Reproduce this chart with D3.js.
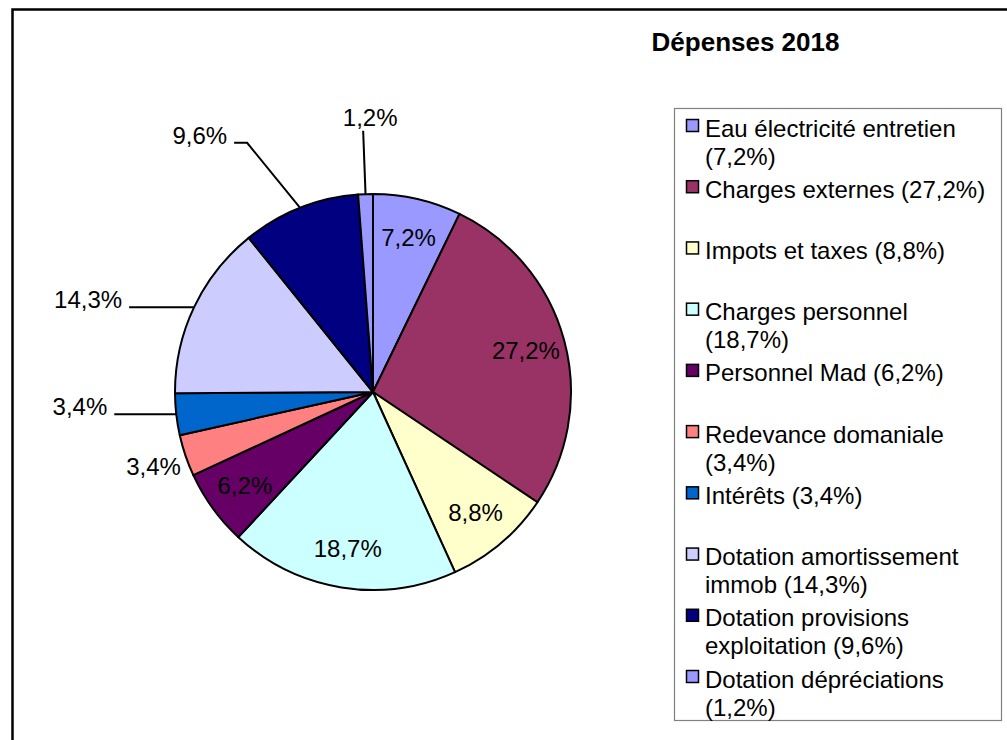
<!DOCTYPE html>
<html>
<head>
<meta charset="utf-8">
<script src="https://cdn.jsdelivr.net/npm/d3@7"></script>
<style>
  body { margin: 0; background: #fff; }
  svg { display: block; }
  text { font-family: Arial, "Liberation Sans", sans-serif; fill: #000; }
</style>
</head>
<body>
<div id="chart"></div>
<script>
const categories = ["Eau électricité entretien", "Charges externes", "Impots et taxes",
  "Charges personnel", "Personnel Mad", "Redevance domaniale", "Intérêts",
  "Dotation amortissement immob", "Dotation provisions exploitation", "Dotation dépréciations"];
const shares = [7.2, 27.2, 8.8, 18.7, 6.2, 3.4, 3.4, 14.3, 9.6, 1.2];
const colors = ["#9999ff", "#993366", "#ffffcc", "#ccffff", "#660066",
  "#ff8080", "#0066cc", "#ccccff", "#000080", "#9999ff"];
const title = "Dépenses 2018";

// where each percent label goes: inside the slice, or outside with a leader line
const labelSpots = ["in", "in", "in", "in", "in",
  { k: 1.17 },
  { k: 1, tail: 62 },
  { k: 1, tail: 65 },
  { k: 1.41, turn: -5.2, tail: 13 },
  { k: 1.32, tail: 0, above: true }];

const width = 1007, height = 740;
const cx = 373, cy = 392, radius = 198;

const svg = d3.select("#chart").append("svg")
  .attr("width", width)
  .attr("height", height);

// outer frame (only top and left edges show)
svg.append("path")
  .attr("d", `M12.5,${height + 5}V9.5H${width + 5}`)
  .attr("fill", "none")
  .attr("stroke", "#000")
  .attr("stroke-width", 2.5);

const fmt = v => d3.format(".1f")(v).replace(".", ",") + "%";

const data = categories.map((c, i) => ({ name: c, value: shares[i], color: colors[i] }));
const pie = d3.pie().sort(null).value(d => d.value);
const arcs = pie(data);
const arc = d3.arc().innerRadius(0).outerRadius(radius);

const g = svg.append("g").attr("transform", `translate(${cx},${cy})`);

g.selectAll("path.slice")
  .data(arcs)
  .join("path")
  .attr("class", "slice")
  .attr("d", arc)
  .attr("fill", d => d.data.color)
  .attr("stroke", "#000")
  .attr("stroke-width", 2)
  .attr("stroke-linejoin", "round");

const polar = (a, r) => [r * Math.sin(a), -r * Math.cos(a)];
const mid = d => (d.startAngle + d.endAngle) / 2;

arcs.forEach((d, i) => {
  const spot = labelSpots[i];
  const a = mid(d);
  const label = g.append("text").style("font-size", "24px").text(fmt(d.value));
  if (spot === "in") {
    const [x, y] = polar(a, radius * 0.8);
    label.attr("x", x).attr("y", y).attr("dy", "0.36em").attr("text-anchor", "middle");
    return;
  }
  if (spot.tail === undefined) {
    const [x, y] = polar(a, radius * spot.k);
    label.attr("x", x).attr("y", y).attr("dy", "0.36em").attr("text-anchor", "middle");
    return;
  }
  const p0 = polar(a, radius);
  const p1 = polar(a + (spot.turn || 0) * Math.PI / 180, radius * spot.k);
  const p2 = [p1[0] - spot.tail, p1[1]];
  g.append("path")
    .attr("d", d3.line()([p0, p1, p2]))
    .attr("fill", "none")
    .attr("stroke", "#000")
    .attr("stroke-width", 2);
  if (spot.above) {
    label.attr("x", p1[0] + 7).attr("y", p1[1] - 5).attr("text-anchor", "middle");
  } else {
    label.attr("x", p2[0] - 7).attr("y", p2[1] + 1).attr("text-anchor", "end");
  }
});

// title
svg.append("text")
  .attr("x", 745.5)
  .attr("y", 50.5)
  .attr("text-anchor", "middle")
  .style("font-size", "26px")
  .style("font-weight", "bold")
  .text(title);

// legend
const legend = svg.append("g");
legend.append("rect")
  .attr("x", 674.5).attr("y", 108.5)
  .attr("width", 327).attr("height", 612)
  .attr("fill", "#fff")
  .attr("stroke", "#808080")
  .attr("stroke-width", 1.2);

const rowY = d3.scaleLinear().domain([0, data.length - 1]).range([136.5, 687.5]);
const textX = 705, lineH = 28, maxW = 287;

data.forEach((d, i) => {
  const base = rowY(i);
  legend.append("rect")
    .attr("x", 686.5).attr("y", base - 17)
    .attr("width", 12).attr("height", 12)
    .attr("fill", d.color)
    .attr("stroke", "#000")
    .attr("stroke-width", 1.5);
  const t = legend.append("text").attr("x", textX).attr("y", base).style("font-size", "24px");
  const words = `${d.name} (${fmt(d.value)})`.split(" ");
  let line = [];
  let ts = t.append("tspan").attr("x", textX);
  words.forEach(w => {
    line.push(w);
    ts.text(line.join(" "));
    if (ts.node().getComputedTextLength() > maxW && line.length > 1) {
      line.pop();
      ts.text(line.join(" "));
      line = [w];
      ts = t.append("tspan").attr("x", textX).attr("dy", lineH).text(w);
    }
  });
});
</script>
</body>
</html>
